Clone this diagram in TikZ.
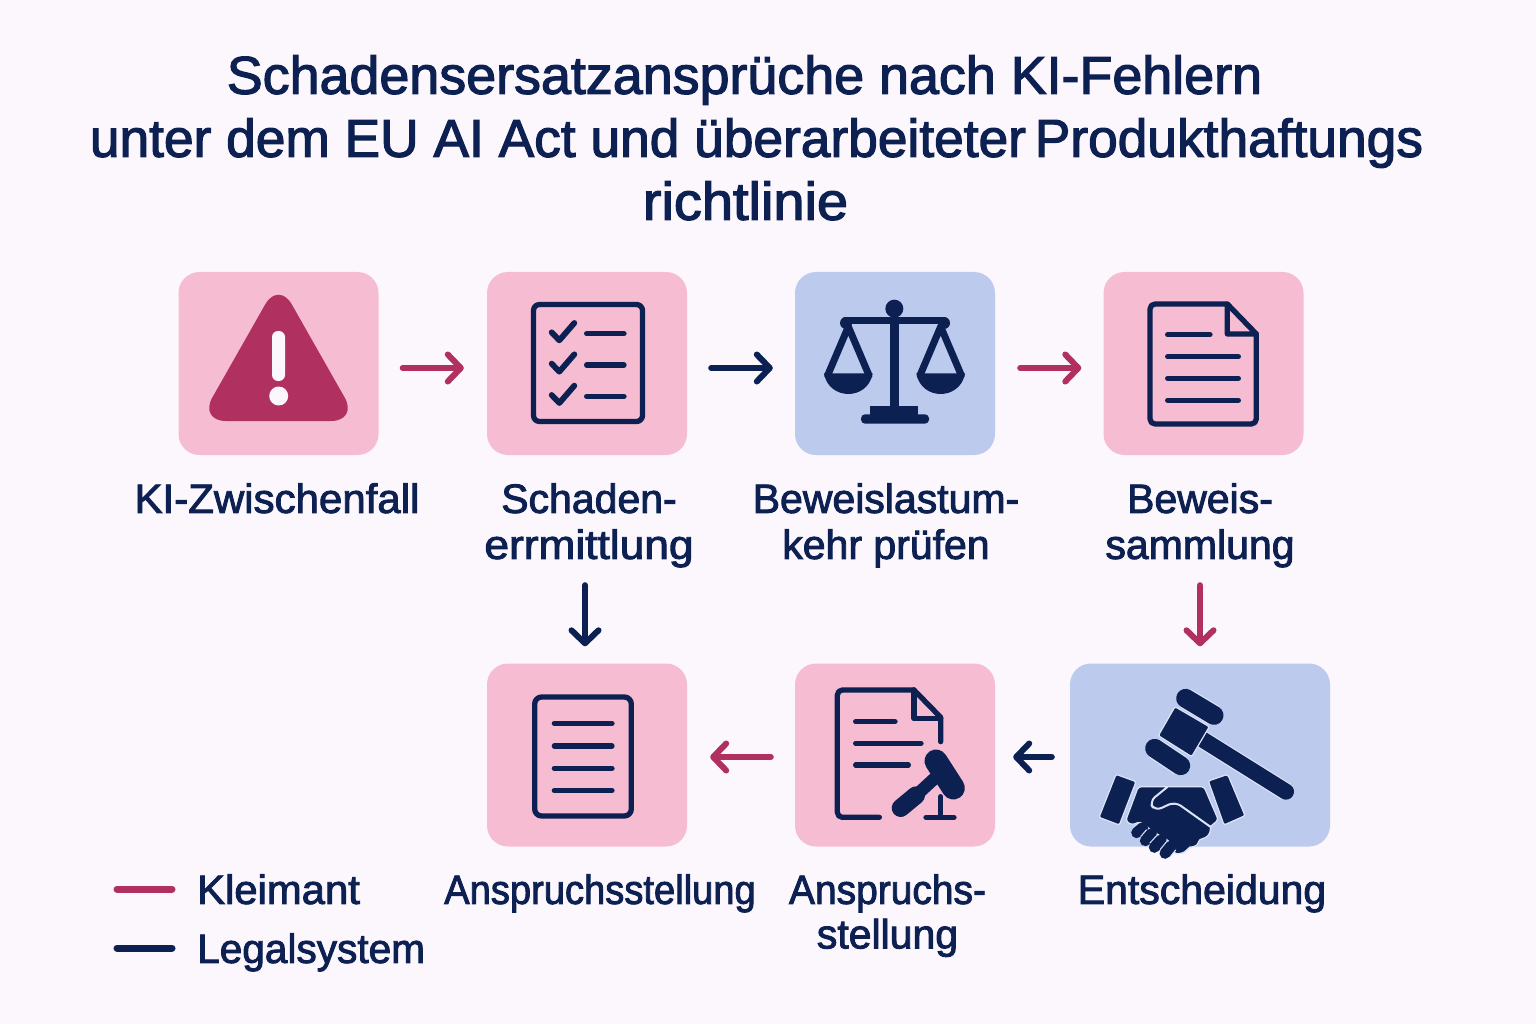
\documentclass[tikz,border=0pt]{standalone}
\usepackage{fontspec}
\usepackage{graphicx}
\usetikzlibrary{arrows.meta}
\newfontfamily\dgfont[FakeBold=2.2]{Liberation Sans}
\definecolor{bgc}{HTML}{FCF6FD}
\definecolor{pinkbox}{HTML}{F6BCD2}
\definecolor{bluebox}{HTML}{BCCAEE}
\definecolor{navyc}{HTML}{0C2152}
\definecolor{magc}{HTML}{B03060}
\definecolor{halob}{HTML}{DCE4F8}
\tikzset{
  box/.style={rectangle,rounded corners=21pt,inner sep=0pt,minimum height=183pt,minimum width=200pt},
  pinkb/.style={box,fill=pinkbox},
  blueb/.style={box,fill=bluebox},
  lab/.style={font=\dgfont\fontsize{41}{46}\selectfont,text=navyc,align=center,inner sep=0pt,anchor=north},
  ttl/.style={font=\dgfont\fontsize{53.3}{63}\selectfont,text=navyc,align=center,inner sep=0pt,anchor=north},
  arr/.style={line width=6pt,line cap=round,-{Straight Barb[length=13pt,width=27pt,round]}},
  arrm/.style={arr,draw=magc},
  arrn/.style={arr,draw=navyc},
  legl/.style={line width=7pt,line cap=round},
  ico/.style={draw=navyc,line width=5.3pt,line cap=round,line join=round},
  fine/.style={fill=navyc,draw=halob,line width=1.2pt},
  saus/.style={line cap=round,preaction={draw=halob,line width=#1+2.4pt},draw=navyc,line width=#1},
  zoomz/.style={x=0.33333pt,y=-0.33333pt},
}
\begin{document}
\begin{tikzpicture}[x=1pt,y=-1pt]
\useasboundingbox (0,0) rectangle (1536,1024);
\fill[bgc] (0,0) rectangle (1536,1024);

% title
\node[ttl] (title) at (756.5,55) {\scalebox{1.01}[1]{Schadensersatzansprüche nach KI-Fehlern}\hspace*{24pt}\\unter dem EU AI Act und überarbeiteter\kern-6pt{} Produkthaftungs\\\scalebox{1.05}[1]{richtlinie}\hspace*{22pt}};

% boxes
\node[pinkb] (a) at (278.5,363.5) {};
\node[pinkb] (b) at (587,363.5) {};
\node[blueb] (c) at (895,363.5) {};
\node[pinkb] (d) at (1203.5,363.5) {};
\node[pinkb] (e) at (587,755) {};
\node[pinkb] (f) at (895,755) {};
\node[blueb,minimum width=260pt] (g) at (1200,755) {};

% labels
\node[lab] (la) at (277,483) {\scalebox{1.025}[1]{KI-Zwischenfall}};
\node[lab] (lb) at (589,483) {Schaden-\\\scalebox{1.08}[1]{errmittlung}};
\node[lab] (lc) at (886,483) {Beweislastum-\\kehr prüfen};
\node[lab] (ld) at (1200,483) {Beweis-\\sammlung};
\node[lab] (le) at (600,874) {\scalebox{0.93}[1]{Anspruchsstellung}};
\node[lab,font=\dgfont\fontsize{41}{44.5}\selectfont] (lf) at (887.5,874) {\scalebox{0.95}[1]{Anspruchs-}\\stellung};
\node[lab] (lg) at (1202,874) {Entscheidung};

% arrows
\draw[arrm,shorten <=24pt,shorten >=23pt] ([yshift=-4.5pt]a.east) -- ([yshift=-4.5pt]b.west);
\draw[arrn,shorten <=24pt,shorten >=22pt] ([yshift=-4.5pt]b.east) -- ([yshift=-4.5pt]c.west);
\draw[arrm,shorten <=25pt,shorten >=22pt] ([yshift=-4.5pt]c.east) -- ([yshift=-4.5pt]d.west);
\draw[arrn,shorten <=130pt,shorten >=17pt] ([xshift=-2pt]b.south) -- ([xshift=-2pt]e.north);
\draw[arrm,shorten <=130pt,shorten >=17pt] ([xshift=-3.5pt]d.south) -- (g.north);
\draw[arrn,shorten <=18pt,shorten >=18pt] ([yshift=-2pt]g.west) -- ([yshift=-2pt]f.east);
\draw[arrm,shorten <=24pt,shorten >=23pt] ([yshift=-2pt]f.west) -- ([yshift=-2pt]e.east);

% legend
\coordinate (k0) at (117,889);
\coordinate (k1) at (172,889);
\coordinate (n0) at (117,948);
\coordinate (n1) at (172,948);
\draw[legl,draw=magc] (k0) -- (k1);
\draw[legl,draw=navyc] (n0) -- (n1);
\node[lab,anchor=north west] (lk) at (197,874) {\scalebox{1.02}[1]{Kleimant}};
\node[lab,anchor=north west] (ll) at (197,933) {\scalebox{0.99}[1]{Legalsystem}};

% warning icon
\fill[magc,rounded corners=27pt] (278.5,281) -- (358,421) -- (199,421) -- cycle;
\fill[bgc,rounded corners=6pt] (272,331) rectangle (285,381);
\fill[bgc] (278.7,396) circle[radius=9.5pt];

% checklist icon
\draw[ico,rounded corners=6pt] (533.5,304.5) rectangle (642.5,421.5);
\begin{scope}[shift={(170,268)},zoomz]
  \foreach \dy in {0,94,188}{
    \draw[ico,line width=5.8pt] (1145,\dy+193) -- (1168,\dy+217) -- (1213,\dy+165);
    \draw[ico] (1250,\dy+197) -- (1362,\dy+197);
  }
\end{scope}

% scales icon
\begin{scope}[shift={(790,268)},zoomz]
  \fill[navyc] (313,122) circle[radius=27];
  \fill[navyc] (299,150) rectangle (327,420);
  \draw[navyc,line width=7pt,line cap=round] (165,158) -- (462,158);
  \fill[navyc] (168,165) circle[radius=18];
  \fill[navyc] (462,165) circle[radius=18];
  \foreach \cx in {175,452}{
    \draw[ico,line width=7pt,line join=round] (\cx-62,322) -- (\cx,176) -- (\cx+62,322);
    \fill[navyc] (\cx-73,316) -- (\cx+73,316) .. controls (\cx+66,358) and (\cx+32,378) .. (\cx,378) .. controls (\cx-32,378) and (\cx-66,358) .. (\cx-73,316) -- cycle;
  }
  \fill[navyc] (240,414) rectangle (385,442);
  \fill[navyc,rounded corners=4pt] (213,439) rectangle (417,467);
\end{scope}

% document icon (top right)
\begin{scope}[shift={(1100,268)},zoomz]
  \draw[ico,rounded corners=5pt] (382,108) -- (150,108) -- (150,468) -- (469,468) -- (469,198);
  \draw[ico] (382,108) -- (469,198) -- (382,198) -- cycle;
  \draw[ico] (203,200) -- (330,200);
  \foreach \yy in {266,331,397}{\draw[ico] (203,\yy) -- (415,\yy);}
\end{scope}

% document icon (bottom left)
\begin{scope}[shift={(482,660)},zoomz]
  \draw[ico,rounded corners=7pt] (158,111) rectangle (448,468);
  \foreach \yy in {190,258,325,392}{\draw[ico] (217,\yy) -- (390,\yy);}
\end{scope}

% document with gavel
\begin{scope}[shift={(790,660)},zoomz]
  \draw[ico,rounded corners=5pt] (268,472) -- (142,472) -- (142,90) -- (372,90);
  \draw[ico] (372,90) -- (452,172) -- (452,245);
  \draw[ico] (372,90) -- (372,176) -- (452,176);
  \draw[ico] (197,185) -- (315,185);
  \draw[ico] (197,250) -- (393,250);
  \draw[ico] (197,315) -- (355,315);
  \draw[ico] (452,410) -- (452,472);
  \draw[ico] (408,472) -- (492,472);
  \draw[navyc,line width=12.5pt] (450,340) -- (385,400);
  \draw[navyc,line width=18pt,line cap=round] (378,406) -- (332,444);
  \draw[navyc,line width=23pt,line cap=round] (438,303) -- (490,384);
\end{scope}

% gavel and handshake
\begin{scope}[shift={(1060,655)},zoomz]
  \draw[saus=16pt] (430,255) -- (678,410);
  \draw[fine,rounded corners=2pt] (345,155) -- (448,215) -- (395,305) -- (295,242) -- cycle;
  \draw[saus=19pt] (377,130) -- (462,181);
  \draw[saus=19pt] (284,280) -- (362,332);
  \draw[fine,rounded corners=2pt] (168,358) -- (228,380) -- (178,510) -- (117,487) -- cycle;
  \draw[fine,rounded corners=2pt] (445,378) -- (503,358) -- (555,482) -- (492,510) -- cycle;
  \draw[fine,rounded corners=3pt] (235,395) -- (432,395) -- (475,495) -- (450,515) -- (452,532) -- (436,550) -- (418,552) -- (412,572) -- (385,578) -- (375,592) -- (345,598) -- (330,560) -- (280,530) -- (240,500) -- (215,510) -- (197,497) -- cycle;
  \draw[halob,line width=2pt,line cap=round,line join=round,rounded corners=7pt] (322,396) -- (268,440) -- (285,468) -- (345,440) -- (452,516);
  \draw[saus=11pt] (230,533) -- (248,518);
  \draw[saus=11pt] (256,557) -- (274,536);
  \draw[saus=11pt] (283,577) -- (303,555);
  \draw[saus=11pt] (315,595) -- (333,573);
\end{scope}
\end{tikzpicture}
\end{document}
